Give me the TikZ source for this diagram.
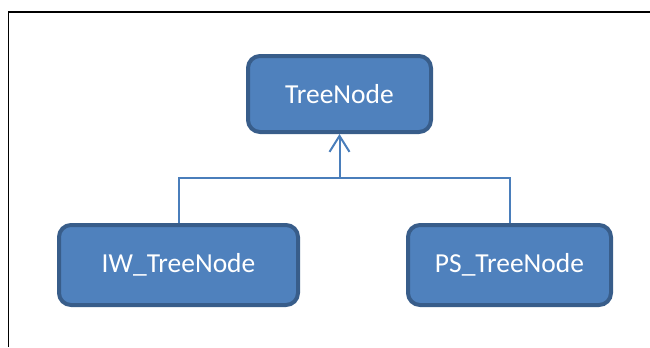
\documentclass[tikz,border=0pt]{standalone}
\usepackage{fontspec}
\setmainfont{Carlito}
\usetikzlibrary{arrows.meta, positioning, calc}

\definecolor{boxfill}{HTML}{4F81BD}
\definecolor{boxdraw}{HTML}{385D8A}
\definecolor{linkcol}{HTML}{4A7EBB}

\begin{document}
\begin{tikzpicture}[
    x=0.75pt, y=-0.75pt,
    cls/.style={rectangle, draw=boxdraw, fill=boxfill, line width=3pt, rounded corners=9pt, text=white, align=center, font=\fontsize{20.6}{24}\selectfont},
    link/.style={draw=linkcol, line width=1.5pt},
    inherit/.style={link, -{Straight Barb[length=12pt, width=15pt, line width=1.5pt]}}
]

% Canvas
\useasboundingbox (0,0) rectangle (650,347);
\draw[line width=1.1pt] (8.5,347) -- (8.5,12) -- (650,12);

% Base class
\node[cls, minimum width=183*0.75pt, minimum height=76*0.75pt] at (339.5,94) (base) {TreeNode};

% Derived classes
\node[cls, minimum width=239*0.75pt, minimum height=80*0.75pt] at (178.5,265) (iw) {IW\_TreeNode};
\node[cls, minimum width=203*0.75pt, minimum height=80*0.75pt] at (509.5,265) (ps) {PS\_TreeNode};

% Inheritance connectors
\coordinate (join) at (339.5,178);
\draw[link] (iw.north) |- (join) -| (ps.north);
\draw[inherit] (join) -- (base.south);

\end{tikzpicture}
\end{document}
